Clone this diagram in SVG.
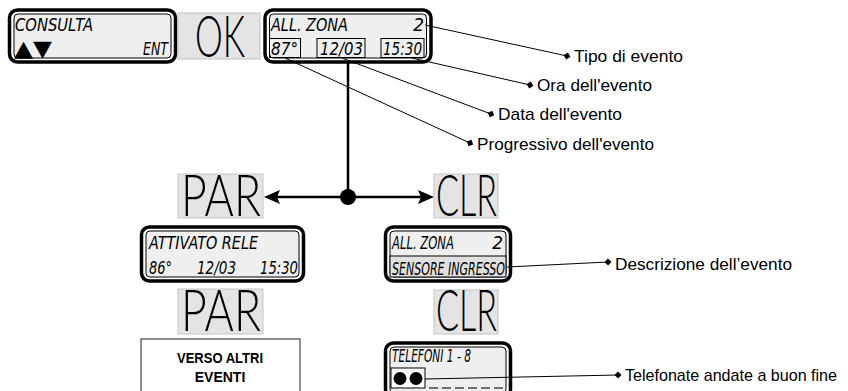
<svg xmlns="http://www.w3.org/2000/svg" width="848" height="391" viewBox="0 0 848 391">
<defs>
<style>
.outer{fill:#fff;stroke:#000;stroke-width:3.5}
.inner{fill:#efefef;stroke:#000;stroke-width:1}
.lcd{font-family:"DejaVu Sans",sans-serif;font-style:italic;font-size:17px;fill:#000}
.sub{fill:none;stroke:#000;stroke-width:1}
.btn{fill:#e4e4e4;stroke:#c4c4c4;stroke-width:1}
.big{font-family:Lato,"Open Sans","DejaVu Sans",sans-serif;font-weight:300;font-size:57px;fill:#000}
.lbl{font-family:"Liberation Sans",Arial,sans-serif;font-size:17px;fill:#000}
.lead{stroke:#000;stroke-width:1;fill:none}
.main{stroke:#000;stroke-width:2.5;fill:none}
.bold{font-family:"Liberation Sans",Arial,sans-serif;font-weight:bold;font-size:14px;fill:#000}
</style>
<marker id="dia" viewBox="-4 -4 8 8" markerWidth="8" markerHeight="8" markerUnits="userSpaceOnUse" orient="auto">
<path d="M-3.5 0 L0 -3.5 L3.5 0 L0 3.5 Z" fill="#000"/>
</marker>
</defs>

<g id="display-consulta">
<rect class="outer" x="9.5" y="10" width="166" height="52" rx="8"/>
<rect class="inner" x="14" y="14" width="157" height="44" rx="4"/>
<text class="lcd" x="15" y="31" textLength="78" lengthAdjust="spacingAndGlyphs">CONSULTA</text>
<text x="14" y="56" font-family="DejaVu Sans,sans-serif" font-size="22" textLength="38" lengthAdjust="spacingAndGlyphs">▲▼</text>
<text class="lcd" x="143" y="55" textLength="25" lengthAdjust="spacingAndGlyphs">ENT</text>
</g>

<g id="btn-ok">
<rect class="btn" x="178" y="13" width="82" height="46"/>
<text class="big" x="195" y="57" textLength="50" lengthAdjust="spacingAndGlyphs">OK</text>
</g>

<g id="display-allzona">
<rect class="outer" x="265" y="10" width="166" height="52" rx="8"/>
<rect class="inner" x="269.5" y="14" width="157" height="44" rx="4"/>
<text class="lcd" x="271" y="31" textLength="77" lengthAdjust="spacingAndGlyphs">ALL. ZONA</text>
<text class="lcd" x="424" y="31" text-anchor="end">2</text>
<rect class="sub" x="269.5" y="38.5" width="31" height="19"/>
<text class="lcd" x="271" y="55" textLength="27" lengthAdjust="spacingAndGlyphs">87°</text>
<rect class="sub" x="317" y="38.5" width="48" height="19"/>
<text class="lcd" x="320" y="55" textLength="43" lengthAdjust="spacingAndGlyphs">12/03</text>
<rect class="sub" x="381" y="38.5" width="43" height="19"/>
<text class="lcd" x="383" y="55" textLength="39" lengthAdjust="spacingAndGlyphs">15:30</text>
</g>

<g id="label-tipo">
<text class="lbl" x="574" y="62" textLength="109" lengthAdjust="spacingAndGlyphs">Tipo di evento</text>
</g>
<g id="label-ora">
<text class="lbl" x="537" y="91" textLength="115" lengthAdjust="spacingAndGlyphs">Ora dell'evento</text>
</g>
<g id="label-data">
<text class="lbl" x="498" y="120" textLength="124" lengthAdjust="spacingAndGlyphs">Data dell'evento</text>
</g>
<g id="label-progressivo">
<text class="lbl" x="477" y="150" textLength="177" lengthAdjust="spacingAndGlyphs">Progressivo dell'evento</text>
</g>

<g id="btn-par">
<rect class="btn" x="178" y="174" width="85" height="44"/>
<text class="big" x="181" y="216" textLength="80" lengthAdjust="spacingAndGlyphs">PAR</text>
</g>
<g id="btn-clr">
<rect class="btn" x="434" y="174" width="64" height="44"/>
<text class="big" x="436" y="216" textLength="61" lengthAdjust="spacingAndGlyphs">CLR</text>
</g>

<g id="display-attivato">
<rect class="outer" x="141.5" y="227" width="162" height="54" rx="8"/>
<rect class="inner" x="146" y="231" width="153" height="46" rx="4"/>
<text class="lcd" x="149" y="249" textLength="109" lengthAdjust="spacingAndGlyphs">ATTIVATO RELE</text>
<text class="lcd" x="149" y="274" textLength="23" lengthAdjust="spacingAndGlyphs">86°</text>
<text class="lcd" x="197" y="274" textLength="39" lengthAdjust="spacingAndGlyphs">12/03</text>
<text class="lcd" x="260" y="274" textLength="38" lengthAdjust="spacingAndGlyphs">15:30</text>
</g>

<g id="display-sensore">
<rect class="outer" x="385.5" y="227" width="125" height="54" rx="8"/>
<rect class="inner" x="390" y="231" width="116" height="46" rx="4"/>
<text class="lcd" x="392" y="249" textLength="62" lengthAdjust="spacingAndGlyphs">ALL. ZONA</text>
<text class="lcd" x="503" y="249" text-anchor="end">2</text>
<rect x="390" y="256" width="116" height="21" fill="#e0e0e0" stroke="#000" stroke-width="1"/>
<text class="lcd" x="392" y="275" textLength="113" lengthAdjust="spacingAndGlyphs">SENSORE INGRESSO</text>
</g>

<g id="label-descrizione">
<text class="lbl" x="615" y="270" textLength="177" lengthAdjust="spacingAndGlyphs">Descrizione dell’evento</text>
</g>

<g id="btn-par-2">
<rect class="btn" x="178" y="289" width="85" height="45"/>
<text class="big" x="181" y="331" textLength="80" lengthAdjust="spacingAndGlyphs">PAR</text>
</g>
<g id="btn-clr-2">
<rect class="btn" x="434" y="290" width="64" height="44"/>
<text class="big" x="436" y="331" textLength="61" lengthAdjust="spacingAndGlyphs">CLR</text>
</g>

<g id="box-verso">
<rect x="141" y="339" width="159" height="60" fill="#fff" stroke="#444" stroke-width="1.2"/>
<text class="bold" x="220" y="363" text-anchor="middle" textLength="86" lengthAdjust="spacingAndGlyphs">VERSO ALTRI</text>
<text class="bold" x="220" y="382" text-anchor="middle">EVENTI</text>
</g>

<g id="display-telefoni">
<rect class="outer" x="385.5" y="343" width="125" height="54" rx="8"/>
<rect class="inner" x="390" y="347" width="116" height="46" rx="4"/>
<text class="lcd" x="392" y="362" textLength="79" lengthAdjust="spacingAndGlyphs">TELEFONI  1 - 8</text>
<rect x="391" y="368" width="34" height="20" fill="#fff" stroke="#000" stroke-width="1"/>
<circle cx="400" cy="378.5" r="6.5" fill="#000"/>
<circle cx="416" cy="378.5" r="6.5" fill="#000"/>
<line x1="429" y1="388" x2="506" y2="388" stroke="#444" stroke-width="1.5" stroke-dasharray="9 4"/>
</g>

<g id="label-telefonate">
<text class="lbl" x="625" y="381" font-size="16" textLength="212" lengthAdjust="spacingAndGlyphs">Telefonate andate a buon fine</text>
</g>

<g id="connectors">
<line class="lead" x1="425" y1="25" x2="567" y2="56" marker-end="url(#dia)"/>
<line class="lead" x1="412" y1="58" x2="530" y2="85" marker-end="url(#dia)"/>
<line class="lead" x1="342" y1="58" x2="491" y2="114" marker-end="url(#dia)"/>
<line class="lead" x1="285" y1="58" x2="470" y2="143" marker-end="url(#dia)"/>
<line class="lead" x1="507" y1="267" x2="608" y2="262" marker-end="url(#dia)"/>
<line class="lead" x1="425" y1="379" x2="618" y2="375" marker-end="url(#dia)"/>
<line class="main" x1="348" y1="62" x2="348" y2="197"/>
<line class="main" x1="276" y1="197" x2="422" y2="197"/>
<circle cx="348" cy="197" r="8" fill="#000"/>
<path d="M264 197 L280 190 L277 197 L280 204 Z" fill="#000"/>
<path d="M434 197 L418 190 L421 197 L418 204 Z" fill="#000"/>
</g>
</svg>
